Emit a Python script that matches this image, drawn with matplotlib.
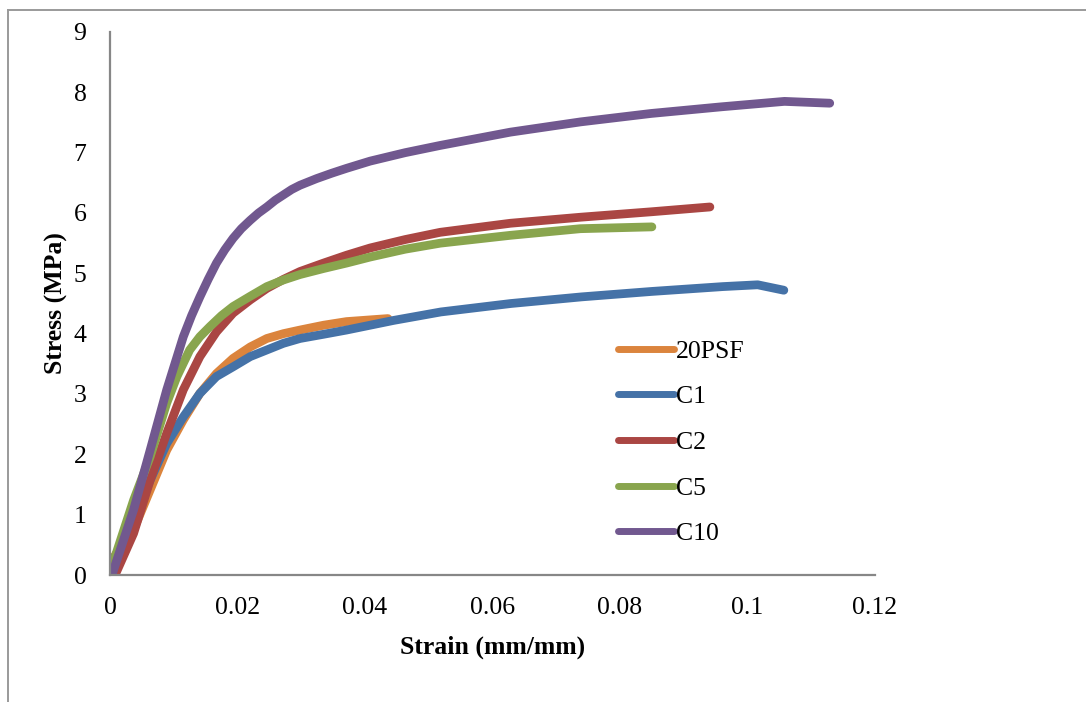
import matplotlib
matplotlib.use("Agg")
import matplotlib.pyplot as plt
from matplotlib.lines import Line2D

plt.rcParams['font.family'] = ['Liberation Serif', 'DejaVu Serif']

# stress-strain curves, strain (mm/mm) vs stress (MPa)
psf_strain = [0.0003, 0.0037, 0.0063, 0.0089, 0.0115, 0.0141, 0.0167, 0.0193, 0.022, 0.0246, 0.0272, 0.0298, 0.0335,
              0.0371, 0.0436]
psf_stress = [0.25, 0.75, 1.41, 2.07, 2.57, 3.01, 3.34, 3.59, 3.78, 3.92, 4.0, 4.06, 4.14, 4.20, 4.25]

c1_strain = [0.0003, 0.0037, 0.0063, 0.0089, 0.0115, 0.0141, 0.0167, 0.0193, 0.022, 0.0246, 0.0272, 0.0298, 0.0335,
             0.0371, 0.0445, 0.0519, 0.0629, 0.074, 0.085, 0.0961, 0.1016, 0.1057]
c1_stress = [0.2, 0.91, 1.57, 2.18, 2.62, 3.01, 3.29, 3.45, 3.62, 3.73, 3.84, 3.92, 3.99,
             4.06, 4.22, 4.36, 4.50, 4.61, 4.70, 4.78, 4.81, 4.72]

c2_strain = [0.0008, 0.0037, 0.0063, 0.0089, 0.0115, 0.0141, 0.0167, 0.0193, 0.022, 0.0246, 0.0272, 0.0298, 0.0335,
             0.0371, 0.0408, 0.0463, 0.0518, 0.0628, 0.0738, 0.0849, 0.0941]
c2_stress = [0.0, 0.69, 1.57, 2.35, 3.07, 3.62, 4.03, 4.34, 4.56, 4.75, 4.90, 5.03, 5.17,
             5.30, 5.42, 5.56, 5.68, 5.83, 5.93, 6.02, 6.10]

c5_strain = [0.0003, 0.0037, 0.0063, 0.0089, 0.0105, 0.0125, 0.0141, 0.0157, 0.0175, 0.0193, 0.022, 0.0246, 0.0272,
             0.0298, 0.0335, 0.0371, 0.0408, 0.0463, 0.0518, 0.0628, 0.0738, 0.085]
c5_stress = [0.14, 1.24, 1.96, 2.85, 3.29, 3.73, 3.95, 4.12, 4.30, 4.45, 4.62, 4.78, 4.89,
             4.98, 5.08, 5.17, 5.27, 5.40, 5.50, 5.63, 5.74, 5.77]

c10_strain = [0.0003, 0.0037, 0.0063, 0.0089, 0.0115, 0.0128, 0.0141, 0.0154, 0.0167, 0.018, 0.0193, 0.0206, 0.022,
              0.0233, 0.0246, 0.0259, 0.0272, 0.0285, 0.0298, 0.0324, 0.0348, 0.0371, 0.0408, 0.0463, 0.0518,
              0.0573, 0.0628, 0.0738, 0.0849, 0.0959, 0.1058, 0.1129]
c10_stress = [0.0, 1.08, 2.07, 3.07, 3.95, 4.30, 4.61, 4.90, 5.17, 5.39, 5.58, 5.74, 5.88,
              6.00, 6.10, 6.21, 6.30, 6.39, 6.46, 6.57, 6.66, 6.74, 6.86, 7.00, 7.12,
              7.23, 7.34, 7.51, 7.65, 7.76, 7.85, 7.82]

series = [
    ("20PSF", psf_strain, psf_stress, "#DB843D"),
    ("C1", c1_strain, c1_stress, "#4572A7"),
    ("C2", c2_strain, c2_stress, "#AA4643"),
    ("C5", c5_strain, c5_stress, "#89A54E"),
    ("C10", c10_strain, c10_stress, "#71588F"),
]

fig = plt.figure(figsize=(10.86, 7.02), dpi=100)
ax = fig.add_axes([110 / 1086, 127 / 702, 765 / 1086, 543 / 702])

for name, x, y, col in series:
    ax.plot(x, y, color=col, lw=6.3, solid_capstyle='round', solid_joinstyle='round', label=name)

ax.set_xlim(0, 0.12)
ax.set_ylim(0, 9)
ax.set_xticks([0, 0.02, 0.04, 0.06, 0.08, 0.1, 0.12])
ax.set_xticklabels(["0", "0.02", "0.04", "0.06", "0.08", "0.1", "0.12"])
ax.set_yticks(range(10))
ax.tick_params(length=0, labelsize=18.5)
ax.tick_params(axis='x', pad=16)
ax.tick_params(axis='y', pad=17)

for s in ['top', 'right']:
    ax.spines[s].set_visible(False)
for s in ['left', 'bottom']:
    ax.spines[s].set_color('#878787')
    ax.spines[s].set_linewidth(1.6)

ax.set_xlabel("Strain (mm/mm)", fontsize=18.5, fontweight='bold', labelpad=12)
ax.set_ylabel("Stress (MPa)", fontsize=18.5, fontweight='bold', labelpad=4)

leg = ax.legend(loc='upper left', bbox_to_anchor=(605 / 1086, (702 - 327) / 702),
                bbox_transform=fig.transFigure, frameon=False, fontsize=18.5,
                handlelength=2.2, handletextpad=0.05, labelspacing=0.88, borderpad=0)
for h in leg.get_lines():
    h.set_linewidth(5)

# outer border on the left and top
fig.add_artist(Line2D([8 / 1086, 8 / 1086], [0, (702 - 10) / 702], transform=fig.transFigure,
                      color='#9a9a9a', lw=1.4))
fig.add_artist(Line2D([8 / 1086, 1], [(702 - 10) / 702, (702 - 10) / 702], transform=fig.transFigure,
                      color='#9a9a9a', lw=1.4))

fig.savefig("out.png", dpi=100)
